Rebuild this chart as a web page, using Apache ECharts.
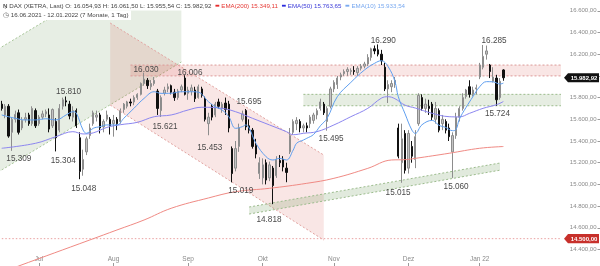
<!DOCTYPE html>
<html><head><meta charset="utf-8">
<script src="https://cdn.jsdelivr.net/npm/echarts@6/dist/echarts.min.js"></script>
<style>html,body{margin:0;padding:0;background:#fff}#c{width:600px;height:266px}</style>
</head><body><div id="c"></div>
<script>
// ---------- DATA ----------
const dates = [
'2021-06-16','2021-06-17','2021-06-18','2021-06-21','2021-06-22','2021-06-23','2021-06-24','2021-06-25','2021-06-28','2021-06-29','2021-06-30',
'2021-07-01','2021-07-02','2021-07-05','2021-07-06','2021-07-07','2021-07-08','2021-07-09','2021-07-12','2021-07-13','2021-07-14','2021-07-15','2021-07-16','2021-07-19','2021-07-20','2021-07-21','2021-07-22','2021-07-23','2021-07-26','2021-07-27','2021-07-28','2021-07-29','2021-07-30',
'2021-08-02','2021-08-03','2021-08-04','2021-08-05','2021-08-06','2021-08-09','2021-08-10','2021-08-11','2021-08-12','2021-08-13','2021-08-16','2021-08-17','2021-08-18','2021-08-19','2021-08-20','2021-08-23','2021-08-24','2021-08-25','2021-08-26','2021-08-27','2021-08-30','2021-08-31',
'2021-09-01','2021-09-02','2021-09-03','2021-09-06','2021-09-07','2021-09-08','2021-09-09','2021-09-10','2021-09-13','2021-09-14','2021-09-15','2021-09-16','2021-09-17','2021-09-20','2021-09-21','2021-09-22','2021-09-23','2021-09-24','2021-09-27','2021-09-28','2021-09-29','2021-09-30',
'2021-10-01','2021-10-04','2021-10-05','2021-10-06','2021-10-07','2021-10-08','2021-10-11','2021-10-12','2021-10-13','2021-10-14','2021-10-15','2021-10-18','2021-10-19','2021-10-20','2021-10-21','2021-10-22','2021-10-25','2021-10-26','2021-10-27','2021-10-28','2021-10-29',
'2021-11-01','2021-11-02','2021-11-03','2021-11-04','2021-11-05','2021-11-08','2021-11-09','2021-11-10','2021-11-11','2021-11-12','2021-11-15','2021-11-16','2021-11-17','2021-11-18','2021-11-19','2021-11-22','2021-11-23','2021-11-24','2021-11-25','2021-11-26','2021-11-29','2021-11-30',
'2021-12-01','2021-12-02','2021-12-03','2021-12-06','2021-12-07','2021-12-08','2021-12-09','2021-12-10','2021-12-13','2021-12-14','2021-12-15','2021-12-16','2021-12-17','2021-12-20','2021-12-21','2021-12-22','2021-12-23','2021-12-27','2021-12-28','2021-12-29','2021-12-30',
'2022-01-03','2022-01-04','2022-01-05','2022-01-06','2022-01-07','2022-01-10','2022-01-11','2022-01-12'];
const padDates = ['2022-01-13','2022-01-14','2022-01-17','2022-01-18','2022-01-19','2022-01-20','2022-01-21','2022-01-24','2022-01-25','2022-01-26','2022-01-27','2022-01-28','2022-01-31',
'2022-02-01','2022-02-02','2022-02-03','2022-02-04','2022-02-07','2022-02-08','2022-02-09','2022-02-10','2022-02-11','2022-02-14','2022-02-15','2022-02-16','2022-02-17','2022-02-18','2022-02-21'];
const monthTickDates = ['2021-07-01','2021-08-02','2021-09-01','2021-10-01','2021-11-01','2021-12-01','2022-01-03'];
const monthTickLabels = ['Jul','Aug','Sep','Okt','Nov','Dez','Jan 22'];
const yTicks = [14400,14600,14800,15000,15200,15400,15600,15800,16000,16200,16400,16600];

// [open, high, low, close]
const ohlc = [
[15740,15770,15680,15700],[15640,15740,15610,15720],[15720,15740,15430,15445],[15480,15620,15309,15600],[15600,15680,15570,15645],
[15660,15690,15460,15480],[15520,15620,15500,15590],[15600,15660,15570,15615],[15640,15660,15540,15560],[15560,15720,15540,15700],[15680,15700,15520,15540],
[15560,15640,15540,15620],[15620,15680,15600,15650],[15650,15690,15620,15670],[15640,15700,15480,15510],[15540,15700,15520,15690],[15580,15610,15304,15430],
[15500,15740,15480,15700],[15720,15800,15690,15780],[15770,15810,15720,15760],[15740,15770,15600,15630],[15620,15720,15580,15680],[15680,15700,15520,15540],
[15430,15480,15048,15120],[15140,15320,15080,15230],[15300,15440,15270,15420],[15450,15560,15420,15520],[15560,15680,15540,15660],[15620,15680,15580,15640],
[15640,15660,15470,15520],[15530,15600,15480,15580],[15600,15680,15580,15640],[15600,15620,15460,15540],
[15560,15640,15440,15590],[15600,15620,15500,15560],[15580,15700,15560,15680],[15690,15750,15660,15740],[15720,15770,15700,15760],[15760,15790,15720,15750],
[15760,15820,15730,15800],[15800,15840,15780,15830],[15830,15940,15820,15930],[15930,16030,15910,15970],[15960,15980,15880,15910],[15900,15960,15870,15930],
[15930,15990,15910,15960],[15860,15880,15640,15700],[15680,15820,15621,15800],[15840,15900,15820,15870],[15880,15930,15850,15900],[15910,15920,15830,15850],
[15850,15880,15770,15800],[15800,15880,15780,15860],[15870,15920,15850,15900],[15980,16006,15820,15830],
[15840,15900,15780,15870],[15860,15920,15820,15890],[15870,15900,15760,15790],[15800,15920,15790,15900],[15880,15900,15800,15820],[15790,15810,15580,15600],
[15560,15660,15453,15620],[15720,15740,15590,15620],[15640,15760,15620,15740],[15760,15790,15700,15720],[15700,15760,15660,15740],[15750,15800,15640,15690],
[15740,15770,15480,15520],[15330,15350,15019,15100],[15150,15400,15120,15330],[15350,15560,15300,15520],[15600,15680,15580,15650],[15680,15695,15500,15530],
[15540,15600,15470,15500],[15500,15520,15330,15350],[15360,15420,15240,15280],[15100,15250,15050,15200],
[15060,15240,15000,15180],[15200,15230,15000,15040],[15060,15210,15030,15180],[15150,15170,14818,14990],[15080,15260,15060,15230],[15220,15270,15160,15200],
[15230,15260,15120,15160],[15150,15200,15020,15110],[15300,15520,15280,15450],[15480,15600,15460,15580],[15560,15620,15500,15590],[15580,15600,15480,15520],
[15520,15560,15480,15540],[15540,15570,15480,15520],[15560,15640,15520,15620],[15590,15660,15560,15640],[15640,15700,15600,15680],[15700,15790,15680,15760],
[15740,15760,15640,15660],[15580,15720,15495,15700],[15720,15900,15700,15880],
[15880,15960,15850,15940],[15920,16000,15880,15980],[15990,16030,15960,16010],[16020,16060,16000,16040],[16040,16080,16000,16060],[16040,16070,16010,16050],
[16050,16090,16010,16040],[16030,16090,16000,16070],[16070,16110,16050,16090],[16090,16130,16070,16110],[16110,16200,16090,16170],[16170,16260,16140,16250],
[16250,16280,16200,16230],[16240,16290,16180,16200],[16200,16240,16100,16140],[16080,16120,15860,15880],[15880,15960,15750,15920],[15900,15960,15850,15930],
[15920,15990,15890,15960],[15520,15560,15240,15260],[15200,15560,15015,15420],[15470,15500,15100,15130],
[15150,15500,15100,15470],[15350,15400,15200,15260],[15230,15500,15150,15440],[15560,15840,15540,15820],[15800,15830,15680,15700],[15700,15790,15660,15740],
[15720,15780,15640,15700],[15740,15760,15590,15620],[15600,15760,15560,15700],[15680,15700,15480,15500],[15560,15640,15500,15600],[15580,15600,15470,15500],
[15520,15560,15400,15440],[15300,15480,15060,15450],[15450,15660,15420,15620],[15620,15720,15580,15700],[15700,15840,15680,15800],[15810,15880,15790,15870],
[15900,15960,15800,15830],[15830,15900,15810,15870],[15880,15920,15830,15890],
[15990,16120,15970,16100],[16080,16285,16060,16180],[16200,16280,16150,16230],[16100,16110,15980,16040],[15950,16080,15940,15990],[15980,16010,15724,15780],
[15800,15980,15780,15950],[16054.93,16061.50,15955.54,15982.92]];

// EMA readings [candle index, value]
const ema10 = [[0,15640],[4,15609],[7,15594],[10,15594],[13,15605],[16,15594],[19,15640],[21,15670],[22,15658],[24,15501],[25,15471],[27,15517],[29,15532],[31,15548],
[34,15548],[36,15609],[39,15701],[42,15793],[45,15854],[47,15839],[50,15840],[53,15854],[56,15854],[58,15850],[61,15762],[63,15716],[65,15686],[67,15624],
[69,15517],[71,15532],[72,15548],[73,15520],[75,15379],[78,15255],[80,15225],[82,15240],[84,15225],[86,15317],[87,15379],[89,15409],[90,15425],[92,15460],
[94,15540],[96,15609],[99,15808],[103,15940],[107,16054],[110,16116],[112,16140],[114,16085],[116,15950],[117,15808],[119,15650],[121,15501],[122,15470],
[124,15550],[127,15590],[129,15545],[131,15525],[133,15495],[134,15505],[135,15600],[137,15710],[139,15808],[141,15900],[143,15947],[145,15945],[147,15925],[148,15933.54]];
const ema50 = [[0,15333],[10,15379],[16,15440],[21,15486],[24,15465],[27,15475],[31,15525],[35,15550],[40,15572],[45,15624],[50,15640],[55,15686],[59,15711],
[65,15701],[69,15670],[74,15609],[79,15548],[84,15486],[86,15458],[89,15471],[93,15486],[98,15548],[103,15624],[108,15701],[112,15795],[114,15808],[116,15790],
[119,15730],[122,15704],[127,15655],[132,15624],[135,15622],[138,15655],[142,15701],[146,15735],[148,15763.65]];
const ema200 = [[0,14190],[5,14248],[26,14488],[34,14580],[42,14672],[50,14780],[61,14875],[69,14933],[79,14964],[90,15010],[98,15056],[108,15148],
[115,15225],[119,15228],[122,15240],[132,15287],[141,15333],[148,15349.11]];

// drawing tools (trend channels / zones) in [candle index, price]
const greenChannel = [[-2.2,16229],[52.9,17262],[52.9,16128],[-2.2,15096]];
const redChannel = [[32.08,16487.5],[95.35,15270.9],[95.35,14487.5],[32.08,15731.8]];
const lowerChannel = [[72.5,14791.7],[147.08,15197.2],[147.08,15131],[72.5,14727]];
const resistanceZone = [37.93,164.78,16000,16100];
const supportZone = [89.2,164.78,15725,15830];
const alertLine = [-1.2,164.78,14500];

// labelled highs / lows
const annoIndex = [3,19,16,23,42,54,47,72,61,68,80,96,111,118,133,142,146];
const annoPrice = [15309,15810,15304,15048,16030,16006,15621,15695,15453,15019,14818,15495,16290,15015,15060,16285,15724];
const annoOffset = [[7,7.5],[2.5,-4.8],[7.3,9.7],[4,10],[2,-3.2],[5.2,-2.4],[4,10],[3.2,-7.2],[1.3,12.8],[8.6,8.4],[-3.9,15.9],[4,7.7],[5.3,-3.7],[-3.6,9.6],[3.6,8.8],[11,-4.3],[0.8,7.8]];

// ---------- HELPERS ----------
function fmt(v, d) {
  const s = Number(v).toFixed(d);
  const parts = s.split('.');
  const ip = parts[0].replace(/\B(?=(\d{3})+(?!\d))/g, '.');
  return d > 0 ? ip + ',' + parts[1] : ip;
}
const FONT = '"Liberation Sans", Arial, sans-serif';
const allDates = dates.concat(padDates);
const candleData = ohlc.map(r => [r[0], r[3], r[2], r[1]]);
const last = ohlc[ohlc.length - 1];
const lastIdx = ohlc.length - 1;
const lastOf = a => a[a.length - 1][1];

const GFILL = 'rgba(105,150,85,0.16)', GSTROKE = '#a7c598';
const RFILL = 'rgba(210,80,70,0.14)', RSTROKE = '#e2a3a0';

function renderZones(params, api) {
  const c = p => api.coord(p);
  const ch = [];
  const poly = (pts, fill) => ch.push({type: 'polygon', shape: {points: pts.map(c)}, style: {fill: fill}});
  const line = (a, b, stroke, dash) => {
    const p1 = c(a), p2 = c(b);
    ch.push({type: 'line', shape: {x1: p1[0], y1: p1[1], x2: p2[0], y2: p2[1]},
      style: {stroke: stroke, lineWidth: 1, lineDash: dash || [2, 2], fill: null}});
  };
  // green upward channel
  poly(greenChannel, GFILL);
  line(greenChannel[0], greenChannel[1], GSTROKE);
  line(greenChannel[3], greenChannel[2], GSTROKE);
  // red downward channel
  poly(redChannel, RFILL);
  line(redChannel[0], redChannel[1], RSTROKE);
  line(redChannel[3], redChannel[2], RSTROKE);
  // horizontal zones
  const band = (z, fill, stroke) => {
    poly([[z[0], z[3]], [z[1], z[3]], [z[1], z[2]], [z[0], z[2]]], fill);
    line([z[0], z[3]], [z[1], z[3]], stroke);
    line([z[0], z[2]], [z[1], z[2]], stroke);
  };
  band(resistanceZone, 'rgba(215,85,80,0.15)', '#dc9a98');
  band(supportZone, 'rgba(105,150,85,0.17)', '#9cbc8d');
  // lower rising channel
  poly(lowerChannel, 'rgba(105,150,85,0.2)');
  line(lowerChannel[0], lowerChannel[1], '#9cbc8d');
  line(lowerChannel[3], lowerChannel[2], '#9cbc8d');
  // alert line
  line([alertLine[0], alertLine[2]], [alertLine[1], alertLine[2]], '#e9a0a0', [1.5, 2]);
  return {type: 'group', children: ch};
}

function renderAnno(params, api) {
  const j = api.value(2);
  const p = api.coord([api.value(0), api.value(1)]);
  return {type: 'text', x: p[0] + annoOffset[j][0], y: p[1] + annoOffset[j][1],
    style: {text: fmt(annoPrice[j], 0), fill: '#4a4a4a', font: '8.2px ' + FONT, align: 'center', verticalAlign: 'middle'}};
}

function renderBadge(params, api) {
  const cs = params.coordSys;
  const right = cs.x + cs.width - 1;
  const yc = api.coord([0, api.value(1)])[1];
  const isLast = api.value(2) === 0;
  const fill = isLast ? '#111111' : '#c7302b';
  const left = right - 35, h = 4.6;
  return {type: 'group', children: [
    {type: 'polygon', shape: {points: [[left, yc], [left + 4, yc - h], [right, yc - h], [right, yc + h], [left + 4, yc + h]]}, style: {fill: fill}},
    {type: 'text', x: (left + 4 + right) / 2 + 0.5, y: yc + 0.3, style: {text: fmt(api.value(1), 2), fill: '#fff', font: 'bold 6px ' + FONT, align: 'center', verticalAlign: 'middle'}}
  ]};
}

const headerText =
  '{i|Ņ} {k|DAX (XETRA, Last) O: ' + fmt(last[0], 2) + ' H: ' + fmt(last[1], 2) + ' L: ' + fmt(last[2], 2) + ' C: ' + fmt(last[3], 2) + '}' +
  '  {rd|▬} {r|EMA(200) ' + fmt(lastOf(ema200), 2) + '}' +
  '  {bd|▬} {b|EMA(50) ' + fmt(lastOf(ema50), 2) + '}' +
  '  {ld|▬} {l|EMA(10) ' + fmt(lastOf(ema10), 2) + '}';
const rangeText = '{c|◷} {k|' + dates[0].split('-').reverse().join('.') + ' - ' + dates[dates.length - 1].split('-').reverse().join('.') + ' (7 Monate, 1 Tag)}';
const hs = 6.2;
const rich = {
  i: {fill: '#555', font: 'bold ' + hs + 'px ' + FONT},
  k: {fill: '#444', font: hs + 'px ' + FONT},
  rd: {fill: '#e52b2b', font: '5px "DejaVu Sans"'},
  r: {fill: '#e53935', font: hs + 'px ' + FONT},
  bd: {fill: '#2b2bdd', font: '5px "DejaVu Sans"'},
  b: {fill: '#3b3bd8', font: hs + 'px ' + FONT},
  ld: {fill: '#7aaaf0', font: '5px "DejaVu Sans"'},
  l: {fill: '#7aaaf0', font: hs + 'px ' + FONT},
  c: {fill: '#666', font: '7px "DejaVu Sans"'}
};

const chart = echarts.init(document.getElementById('c'), null, {renderer: 'canvas'});
chart.setOption({
  animation: false,
  backgroundColor: '#ffffff',
  grid: {left: -4.2, right: 0, top: 0, bottom: 0},
  xAxis: {
    type: 'category', data: allDates, boundaryGap: true,
    axisLine: {show: false},
    axisTick: {show: true, inside: true, length: 3, alignWithLabel: true,
      interval: (i, v) => monthTickDates.indexOf(v) >= 0, lineStyle: {color: '#9a9a9a'}},
    axisLabel: {inside: true, margin: 3.5, fontSize: 6.5, color: '#8a8a8a', fontFamily: 'Liberation Sans',
      interval: (i, v) => monthTickDates.indexOf(v) >= 0,
      formatter: v => { const k = monthTickDates.indexOf(v); return k >= 0 ? monthTickLabels[k] : ''; }},
    splitLine: {show: false}
  },
  yAxis: {
    type: 'value', min: 14248, max: 16699.5, position: 'right',
    splitLine: {show: false}, axisLine: {show: false},
    axisTick: {show: true, inside: true, length: 2.5, lineStyle: {color: '#9a9a9a'}, customValues: yTicks},
    axisLabel: {inside: true, margin: 3.5, fontSize: 6, color: '#8a8a8a', fontFamily: 'Liberation Sans',
      customValues: yTicks, formatter: v => fmt(v, 2)}
  },
  series: [
    {type: 'custom', name: 'zones', z: 1, silent: true, renderItem: renderZones, data: [[0, 15000]]},
    {type: 'candlestick', name: 'DAX', z: 3, barWidth: 1.8, data: candleData,
      itemStyle: {color: '#c4c4c4', color0: '#111111', borderColor: '#8d8d8d', borderColor0: '#111111', borderWidth: 1}},
    {type: 'line', name: 'EMA(200)', z: 4, data: ema200, smooth: 0.4, showSymbol: false, symbol: 'none', lineStyle: {color: '#f08a84', width: 1}},
    {type: 'line', name: 'EMA(50)', z: 4, data: ema50, smooth: 0.4, showSymbol: false, symbol: 'none', lineStyle: {color: '#8c86f0', width: 1}},
    {type: 'line', name: 'EMA(10)', z: 5, data: ema10, smooth: 0.4, showSymbol: false, symbol: 'none', lineStyle: {color: '#5f9ff0', width: 1}},
    {type: 'custom', name: 'labels', z: 6, silent: true, renderItem: renderAnno, data: annoIndex.map((k, j) => [k, annoPrice[j], j])},
    {type: 'custom', name: 'badges', z: 7, silent: true, renderItem: renderBadge, data: [[lastIdx, last[3], 0], [lastIdx, alertLine[2], 1]]}
  ],
  graphic: [
    {type: 'rect', z: 50, silent: true, shape: {x: 0, y: 0, width: 560, height: 10.5}, style: {fill: '#fff'}},
    {type: 'rect', z: 50, silent: true, shape: {x: 0, y: 10.5, width: 131, height: 9.5}, style: {fill: '#fff'}},
    {type: 'text', z: 51, silent: true, x: 3, y: 5.8, style: {text: headerText, rich: rich, verticalAlign: 'middle', font: hs + 'px ' + FONT}},
    {type: 'text', z: 51, silent: true, x: 3, y: 15.2, style: {text: rangeText, rich: rich, verticalAlign: 'middle', font: hs + 'px ' + FONT}}
  ]
});
</script></body></html>
